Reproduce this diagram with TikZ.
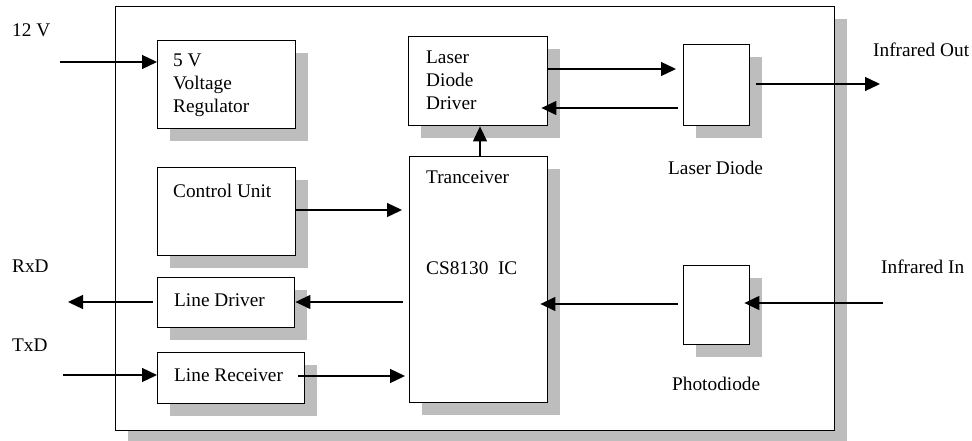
\documentclass[tikz,border=0pt]{standalone}
\usepackage{fontspec}
\setmainfont{Liberation Serif}
\usetikzlibrary{arrows.meta,shadows}
\definecolor{shgray}{gray}{0.74}
\tikzset{
  box/.style={draw, line width=1.4pt, fill=white, anchor=north west, inner sep=0pt,
    drop shadow={shadow xshift=12pt, shadow yshift=-12pt, fill=shgray, opacity=1}},
  txt/.style={anchor=base west, inner sep=0pt, font=\fontsize{19.3}{23}\selectfont},
  arr/.style={line width=1.3pt, -{Triangle[length=15pt,width=14pt]}}
}
\begin{document}
\begin{tikzpicture}[x=1pt,y=-1pt]
\useasboundingbox (0,0) rectangle (972,441);
% outer box
\node[box, minimum width=719pt, minimum height=424pt] (outer) at (115,6) {};
% blocks
\node[box, minimum width=138pt, minimum height=88pt] (reg) at (157,40) {};
\node[box, minimum width=139pt, minimum height=89pt] (ldd) at (408,36) {};
\node[box, minimum width=66pt, minimum height=81pt] (ld) at (683,44) {};
\node[box, minimum width=138pt, minimum height=88pt] (cu) at (157,167) {};
\node[box, minimum width=138pt, minimum height=246pt] (trx) at (409,156) {};
\node[box, minimum width=137pt, minimum height=50pt] (ldr) at (157,277) {};
\node[box, minimum width=147pt, minimum height=51pt] (lrc) at (157,352) {};
\node[box, minimum width=66pt, minimum height=79pt] (pd) at (683,265) {};
% texts
\node[txt] (t12) at (12,37) {12 V};
\node[txt] (trxd) at (12,272) {RxD};
\node[txt] (ttxd) at (12,351) {TxD};
\node[txt] (tirout) at (873,57) {Infrared Out};
\node[txt] (tirin) at (881,273) {Infrared In};
\node[txt] (treg1) at (173,67) {5 V};
\node[txt] (treg2) at (173,90) {Voltage};
\node[txt] (treg3) at (173,113) {Regulator};
\node[txt] (tldd1) at (426,64) {Laser};
\node[txt] (tldd2) at (426,87) {Diode};
\node[txt] (tldd3) at (426,110) {Driver};
\node[txt] (tld) at (668,175) {Laser Diode};
\node[txt] (tcu) at (173,197) {Control Unit};
\node[txt] (ttrx1) at (426,183) {Tranceiver};
\node[txt] (ttrx2) at (426,274) {CS8130\ \ IC};
\node[txt] (tldr) at (174,306) {Line Driver};
\node[txt] (tlrc) at (174,381) {Line Receiver};
\node[txt] (tpd) at (672,390) {Photodiode};
% free ends
\coordinate (in12) at (60,62);
\coordinate (rxd) at (68,302);
\coordinate (txd) at (63,375);
\coordinate (irout) at (880,84);
\coordinate (irin) at (883,303);
% connectors
\draw[arr] (in12) -- (in12 -| reg.west);
\draw[arr, shorten >=7pt] (ldd.east |- 0,69) -- (ld.west |- 0,69);
\draw[arr, shorten <=5pt, shorten >=-7pt] (ld.west |- 0,108) -- (ldd.east |- 0,108);
\draw[arr, shorten <=6pt] (ld.east |- irout) -- (irout);
\draw[arr] (trx.north -| 480,0) -- (ldd.south -| 480,0);
\draw[arr, shorten >=7pt] (cu.east |- 0,210) -- (trx.west |- 0,210);
\draw[arr, shorten <=6pt] (trx.west |- 0,302) -- (ldr.east |- 0,302);
\draw[arr, shorten <=4pt] (ldr.west |- rxd) -- (rxd);
\draw[arr] (txd) -- (txd -| lrc.west);
\draw[arr, shorten <=-7pt, shorten >=4pt] (lrc.east |- 0,376) -- (trx.west |- 0,376);
\draw[arr, shorten <=5pt, shorten >=-8pt] (pd.west |- 0,304) -- (trx.east |- 0,304);
\draw[arr, shorten >=-6pt] (irin) -- (irin -| pd.east);
\end{tikzpicture}
\end{document}
